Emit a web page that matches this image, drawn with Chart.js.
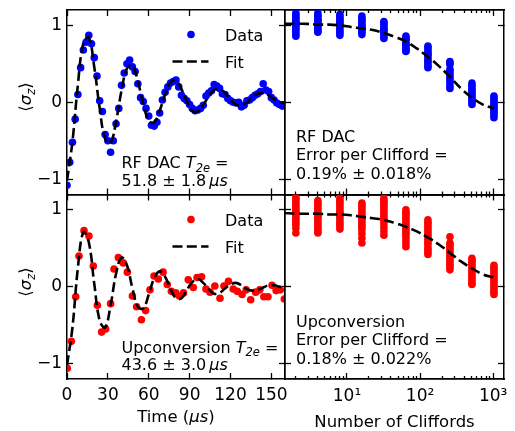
<!DOCTYPE html>
<html>
<head>
<meta charset="utf-8">
<script src="https://cdn.jsdelivr.net/npm/chart.js@4.4.1/dist/chart.umd.min.js"></script>
<style>
  html, body { margin: 0; padding: 0; background: #fff; }
  #wrap { position: relative; width: 515px; height: 431px; }
  #wrap canvas { position: absolute; left: 0; top: 0; }
</style>
</head>
<body>
<div id="wrap">
  <canvas id="rfRamsey" width="515" height="431"></canvas>
  <canvas id="upRamsey" width="515" height="431"></canvas>
  <canvas id="rfRb" width="515" height="431"></canvas>
  <canvas id="upRb" width="515" height="431"></canvas>
</div>
<script>
// Ramsey / echo data (time in us, <sigma_z>)
const rfTime = [0, 2, 4, 6, 8, 10, 12, 14, 16, 18, 20, 22, 24, 26, 28, 30, 32, 34, 36, 38,
  40, 42, 44, 46, 48, 50, 52, 54, 56, 58, 60, 62, 64, 66, 68, 70, 72, 74, 76, 78,
  80, 82, 84, 86, 88, 90, 92, 94, 96, 98, 100, 102, 104, 106, 108, 110, 112, 114, 116, 118,
  120, 122, 124, 126, 128, 130, 132, 134, 136, 138, 140, 142, 144, 146, 148, 150, 152, 154, 156, 158];
const rfSignal = [-1.08, -0.78, -0.52, -0.22, 0.10, 0.45, 0.68, 0.78, 0.87, 0.76, 0.58, 0.34, 0.02, -0.12, -0.42, -0.50, -0.65, -0.50, -0.28, -0.08,
  0.22, 0.38, 0.50, 0.55, 0.46, 0.40, 0.24, 0.06, 0.01, -0.08, -0.18, -0.30, -0.31, -0.26, -0.14, 0.03, 0.13, 0.20, 0.25, 0.27,
  0.29, 0.20, 0.09, 0.05, 0.02, -0.03, -0.08, -0.11, -0.10, -0.08, -0.04, 0.08, 0.12, 0.15, 0.23, 0.21, 0.18, 0.11, 0.10, 0.05,
  0.02, 0.00, -0.01, 0.00, -0.06, -0.04, 0.02, 0.03, 0.06, 0.09, 0.11, 0.14, 0.24, 0.16, 0.14, 0.06, 0.03, -0.01, -0.03, -0.05];

const upTime = [0.2, 3.2, 6.4, 8.8, 12.5, 16.1, 19.3, 22.3, 25.4, 28.4, 32, 34.5, 37.7, 41.3, 44.3, 48, 51.1, 54.6, 57.7, 60.9,
  63.9, 67, 70.5, 73.6, 76.6, 79.8, 82.5, 85.5, 89, 92.7, 95.5, 98.8, 102, 105, 108.5, 112.3, 115.2, 118.5, 122, 125,
  128.5, 131.5, 134.8, 138.5, 141.5, 144.5, 147.5, 150.5, 153.5, 156.5, 159.5];
const upSignal = [-1.06, -0.71, -0.13, 0.40, 0.73, 0.66, 0.27, -0.24, -0.59, -0.55, -0.22, 0.23, 0.38, 0.31, 0.19, -0.12, -0.26, -0.43, -0.31, -0.04,
  0.14, 0.10, 0.19, 0.03, -0.06, -0.08, -0.12, -0.08, 0.09, -0.01, 0.12, 0.13, -0.03, -0.07, 0.01, -0.15, 0.01, 0.07, -0.03, -0.06,
  -0.10, -0.04, -0.17, -0.07, -0.04, -0.13, -0.13, 0.02, -0.05, -0.04, -0.16];

const fitTime = [0, 4, 8, 12, 16, 20, 24, 28, 32, 36, 40, 44, 48, 52, 56, 60, 64, 68, 72, 76,
  80, 84, 88, 92, 96, 100, 104, 108, 112, 116, 120, 124, 128, 132, 136, 140, 144, 148, 152, 156, 160];
const rfFit = [-1.02, -0.51, 0.23, 0.77, 0.84, 0.46, -0.08, -0.48, -0.53, -0.25, 0.15, 0.44, 0.48, 0.27, -0.02, -0.24, -0.26, -0.11, 0.10, 0.26,
  0.28, 0.17, 0.01, -0.11, -0.12, -0.04, 0.08, 0.16, 0.17, 0.12, 0.03, -0.03, -0.04, 0.00, 0.07, 0.11, 0.12, 0.09, 0.04, 0.00, 0.00];
const upFit = [-1.02, -0.53, 0.25, 0.71, 0.58, 0.04, -0.44, -0.53, -0.24, 0.17, 0.38, 0.28, -0.02, -0.26, -0.28, -0.10, 0.11, 0.20, 0.13, -0.03,
  -0.15, -0.15, -0.04, 0.06, 0.10, 0.05, -0.03, -0.09, -0.08, -0.02, 0.03, 0.05, 0.02, -0.03, -0.05, -0.04, -0.01, 0.02, 0.02, 0.00, -0.02];

// Randomized benchmarking (number of Cliffords, <sigma_z> for each random sequence)
const cliffords = [2, 4, 8, 16, 32, 64, 128, 256, 512, 1024];
const rfRbSeq = [
  [1.16, 1.14, 1.11, 1.09, 1.06, 1.04, 1.02, 1.00, 0.98, 0.95, 0.92, 0.89, 0.86],
  [1.16, 1.13, 1.11, 1.08, 1.06, 1.05, 1.02, 1.00, 0.97, 0.95, 0.93, 0.91],
  [1.14, 1.12, 1.09, 1.07, 1.05, 1.03, 1.01, 0.98, 0.95, 0.92, 0.90, 0.87],
  [1.12, 1.09, 1.07, 1.05, 1.02, 1.00, 0.98, 0.96, 0.93, 0.91, 0.88],
  [1.05, 1.03, 1.01, 0.98, 0.96, 0.94, 0.93, 0.90, 0.88, 0.85, 0.83],
  [0.86, 0.84, 0.82, 0.80, 0.77, 0.75, 0.74, 0.71, 0.69, 0.67, 0.66],
  [0.73, 0.71, 0.68, 0.65, 0.63, 0.61, 0.58, 0.55, 0.53, 0.50, 0.47, 0.45],
  [0.53, 0.51, 0.49, 0.43, 0.40, 0.37, 0.34, 0.31, 0.28, 0.25, 0.21, 0.18],
  [0.25, 0.22, 0.20, 0.17, 0.15, 0.12, 0.10, 0.07, 0.05, 0.02, 0.00, -0.03],
  [0.08, 0.06, 0.03, 0.01, -0.02, -0.04, -0.07, -0.09, -0.12, -0.14, -0.17, -0.20]
];
const upRbSeq = [
  [1.17, 1.14, 1.12, 1.09, 1.06, 1.03, 1.00, 0.98, 0.95, 0.92, 0.89, 0.86, 0.83, 0.81, 0.76, 0.70],
  [1.12, 1.09, 1.07, 1.04, 1.01, 0.98, 0.95, 0.92, 0.90, 0.87, 0.84, 0.81, 0.78, 0.75, 0.72, 0.70],
  [1.15, 1.12, 1.10, 1.07, 1.04, 1.01, 0.98, 0.96, 0.93, 0.90, 0.87, 0.84, 0.81, 0.78, 0.75],
  [1.09, 1.06, 1.04, 1.01, 0.98, 0.95, 0.92, 0.89, 0.86, 0.83, 0.80, 0.77, 0.74, 0.69, 0.63, 0.57],
  [1.15, 1.12, 1.10, 1.07, 1.04, 1.01, 0.98, 0.95, 0.92, 0.89, 0.86, 0.82, 0.77, 0.72, 0.67],
  [1.00, 0.97, 0.95, 0.92, 0.89, 0.86, 0.83, 0.80, 0.77, 0.74, 0.71, 0.68, 0.64, 0.60, 0.56, 0.52],
  [0.87, 0.84, 0.82, 0.79, 0.76, 0.73, 0.70, 0.67, 0.64, 0.61, 0.58, 0.55, 0.51, 0.48, 0.45, 0.42],
  [0.65, 0.57, 0.55, 0.52, 0.49, 0.46, 0.43, 0.40, 0.37, 0.34, 0.31, 0.28, 0.25, 0.22],
  [0.37, 0.34, 0.32, 0.29, 0.26, 0.23, 0.20, 0.17, 0.14, 0.11, 0.08, 0.05, 0.03],
  [0.28, 0.25, 0.23, 0.20, 0.17, 0.14, 0.11, 0.08, 0.05, 0.02, -0.01, -0.04, -0.07, -0.10]
];
const rbFitCliffords = [1.4, 2, 2.8, 4, 5.7, 8, 11.3, 16, 22.6, 32, 45, 64, 90, 128, 181, 256, 362, 512, 724, 1024];
const rfRbFit = [1.02, 1.02, 1.02, 1.01, 1.01, 1.00, 0.98, 0.96, 0.94, 0.90, 0.85, 0.79, 0.70, 0.59, 0.47, 0.33, 0.18, 0.06, -0.03, -0.08];
const upRbFit = [0.96, 0.95, 0.95, 0.95, 0.94, 0.94, 0.93, 0.91, 0.89, 0.87, 0.83, 0.78, 0.72, 0.64, 0.55, 0.44, 0.33, 0.24, 0.16, 0.12];

// tick values
const timeTicks = [0, 30, 60, 90, 120, 150];
const sigmaTicks = [-1, 0, 1];
const decadeTicks = [10, 100, 1000];
const minorTicks = [2, 3, 4, 5, 6, 7, 8, 9, 20, 30, 40, 50, 60, 70, 80, 90, 200, 300, 400, 500, 600, 700, 800, 900];

const FAM = '"DejaVu Sans", sans-serif';
const tickFont = { family: 'DejaVu Sans', size: 17 };
const BLUE = '#0000ff';
const RED = '#ff0000';
const SUP = { 10: '\u00b9', 100: '\u00b2', 1000: '\u00b3' };

const sigmaLabel = v => (v < 0 ? '\u2212' + (-v) : String(v));
const timeLabel = v => String(v);
const decadeLabel = v => '10' + SUP[v];

// axis boxes get a fixed size so the plot areas line up across the four canvases
function fixSize(scale, size) {
  if (scale.isHorizontal()) scale.height = size; else scale.width = size;
  scale.paddingLeft = 0; scale.paddingRight = 0;
  scale.paddingTop = 0; scale.paddingBottom = 0;
}

function makeAxis(type, position, min, max, values, opts) {
  opts = opts || {};
  const len = opts.len || 6;
  return {
    type: type, position: position, min: min, max: max, bounds: 'data',
    border: { display: true, color: '#000', width: 1.5 },
    grid: { drawOnChartArea: false, drawTicks: true, tickLength: -len, tickWidth: 1.3, tickColor: '#000' },
    ticks: {
      display: !!opts.label, autoSkip: false, maxRotation: 0, minRotation: 0,
      padding: opts.pad || 12, font: tickFont, color: '#000',
      callback: opts.label || (() => '')
    },
    afterBuildTicks: s => { s.ticks = values.map(v => ({ value: v })); },
    afterFit: s => fixSize(s, opts.size || 0)
  };
}

const pts = (xs, ys) => xs.map((x, i) => ({ x: x, y: ys[i] }));
const clusterPts = (xs, groups) => xs.flatMap((x, i) => groups[i].map(y => ({ x: x, y: y })));

const STYLES = {
  n: '16px ' + FAM, i: 'italic 16px ' + FAM, s: 'italic 11.5px ' + FAM,
  L: '16.5px ' + FAM, Li: 'italic 16.5px ' + FAM, Ls: 'italic 11.5px ' + FAM
};
function drawRich(ctx, parts, x, y, center) {
  const widths = parts.map(p => { ctx.font = STYLES[p[1]]; return ctx.measureText(p[0]).width; });
  let cx = center ? x - widths.reduce((a, b) => a + b, 0) / 2 : x;
  parts.forEach((p, i) => {
    ctx.font = STYLES[p[1]];
    const shift = (p[1] === 's' || p[1] === 'Ls') ? 3.5 : 0;
    ctx.fillText(p[0], cx, y + shift);
    cx += widths[i];
  });
}

function drawYLabel(ctx, cy) {
  ctx.save();
  ctx.translate(31, cy);
  ctx.rotate(-Math.PI / 2);
  drawRich(ctx, [['\u27e8', 'L'], ['\u03c3', 'Li'], ['z', 'Ls'], ['\u27e9', 'L']], 0, 0, true);
  ctx.restore();
}

function drawLegend(ctx, color, y1, y2) {
  ctx.save();
  ctx.fillStyle = color;
  ctx.beginPath();
  ctx.arc(191, y1, 3.8, 0, Math.PI * 2);
  ctx.fill();
  ctx.strokeStyle = '#000';
  ctx.lineWidth = 2.6;
  ctx.setLineDash([10, 4.3]);
  ctx.beginPath();
  ctx.moveTo(172.5, y2);
  ctx.lineTo(208.5, y2);
  ctx.stroke();
  ctx.restore();
  ctx.fillStyle = '#000';
  drawRich(ctx, [['Data', 'n']], 225, y1 + 6.5, false);
  drawRich(ctx, [['Fit', 'n']], 225, y2 + 6.5, false);
}

function textPlugin(fn) {
  return {
    id: 'panelText',
    afterDraw(chart) {
      const ctx = chart.ctx;
      ctx.save();
      ctx.fillStyle = '#000';
      ctx.textBaseline = 'alphabetic';
      ctx.textAlign = 'left';
      fn(ctx);
      ctx.restore();
    }
  };
}

const baseOptions = area => ({
  responsive: false, animation: false, devicePixelRatio: 1, events: [],
  layout: { padding: area },
  plugins: { legend: { display: false }, tooltip: { enabled: false } }
});

function ramseyChart(id, time, signal, fit, color, area, bottomLabels, texts) {
  const options = baseOptions(area);
  options.scales = {
    x: makeAxis('linear', 'bottom', 0, 160, timeTicks,
      bottomLabels ? { label: timeLabel, size: 52, pad: 12 } : null),
    xTop: makeAxis('linear', 'top', 0, 160, timeTicks),
    y: makeAxis('linear', 'left', -1.2, 1.2, sigmaTicks, { label: sigmaLabel, size: 67, pad: 11 }),
    yRight: makeAxis('linear', 'right', -1.2, 1.2, sigmaTicks)
  };
  return new Chart(document.getElementById(id), {
    type: 'scatter',
    data: {
      datasets: [
        {
          data: pts(fitTime, fit), showLine: true, pointRadius: 0, borderColor: '#000',
          borderWidth: 2.6, borderDash: [10, 4.3], tension: 0.4, order: 0
        },
        {
          data: pts(time, signal), pointRadius: 3.8, pointHoverRadius: 3.8, pointBorderWidth: 0,
          backgroundColor: color, borderColor: color, order: 1
        }
      ]
    },
    options: options,
    plugins: [textPlugin(texts)]
  });
}

function rbChart(id, seq, fit, color, area, bottomLabels, texts) {
  const options = baseOptions(area);
  options.scales = {
    x: makeAxis('logarithmic', 'bottom', 1.42, 1405, decadeTicks,
      bottomLabels ? { label: decadeLabel, size: 52, pad: 13 } : null),
    xMinor: makeAxis('logarithmic', 'bottom', 1.42, 1405, minorTicks, { len: 3 }),
    xTop: makeAxis('logarithmic', 'top', 1.42, 1405, decadeTicks),
    xTopMinor: makeAxis('logarithmic', 'top', 1.42, 1405, minorTicks, { len: 3 }),
    y: makeAxis('linear', 'left', -1.2, 1.2, sigmaTicks),
    yRight: makeAxis('linear', 'right', -1.2, 1.2, sigmaTicks)
  };
  // the minor-tick axes sit next to the plot, the labelled axis after them
  options.scales.x.weight = 1;
  return new Chart(document.getElementById(id), {
    type: 'scatter',
    data: {
      datasets: [
        {
          data: pts(rbFitCliffords, fit), showLine: true, pointRadius: 0, borderColor: '#000',
          borderWidth: 2.6, borderDash: [10, 4.3], tension: 0.4, order: 0
        },
        {
          data: clusterPts(cliffords, seq), pointRadius: 3.8, pointHoverRadius: 3.8, pointBorderWidth: 0,
          backgroundColor: color, borderColor: color, order: 1
        }
      ]
    },
    options: options,
    plugins: [textPlugin(texts)]
  });
}

ramseyChart('rfRamsey', rfTime, rfSignal, rfFit, BLUE,
  { left: 0, top: 10, right: 230, bottom: 236.5 }, false, ctx => {
    drawYLabel(ctx, 97);
    drawLegend(ctx, BLUE, 34.5, 61.5);
    drawRich(ctx, [['RF DAC ', 'n'], ['T', 'i'], ['2e', 's'], [' =', 'n']], 121.5, 168);
    drawRich(ctx, [['51.8 \u00b1 1.8\u2009', 'n'], ['\u03bcs', 'i']], 121.5, 185.5);
  });

ramseyChart('upRamsey', upTime, upSignal, upFit, RED,
  { left: 0, top: 194.5, right: 230, bottom: 0 }, true, ctx => {
    drawYLabel(ctx, 282);
    drawLegend(ctx, RED, 219.5, 246.5);
    drawRich(ctx, [['Upconversion ', 'n'], ['T', 'i'], ['2e', 's'], [' =', 'n']], 121.5, 352.5);
    drawRich(ctx, [['43.6 \u00b1 3.0\u2009', 'n'], ['\u03bcs', 'i']], 121.5, 370);
    drawRich(ctx, [['Time (', 'L'], ['\u03bcs', 'Li'], [')', 'L']], 176, 422, true);
  });

rbChart('rfRb', rfRbSeq, rfRbFit, BLUE,
  { left: 285, top: 10, right: 11, bottom: 236.5 }, false, ctx => {
    drawRich(ctx, [['RF DAC', 'n']], 296, 141.5);
    drawRich(ctx, [['Error per Clifford =', 'n']], 296, 160);
    drawRich(ctx, [['0.19% \u00b1 0.018%', 'n']], 296, 178.5);
  });

rbChart('upRb', upRbSeq, upRbFit, RED,
  { left: 285, top: 194.5, right: 11, bottom: 0 }, true, ctx => {
    drawRich(ctx, [['Upconversion', 'n']], 296, 326.5);
    drawRich(ctx, [['Error per Clifford =', 'n']], 296, 345);
    drawRich(ctx, [['0.18% \u00b1 0.022%', 'n']], 296, 363.5);
    drawRich(ctx, [['Number of Cliffords', 'L']], 394.5, 427, true);
  });
</script>
</body>
</html>
